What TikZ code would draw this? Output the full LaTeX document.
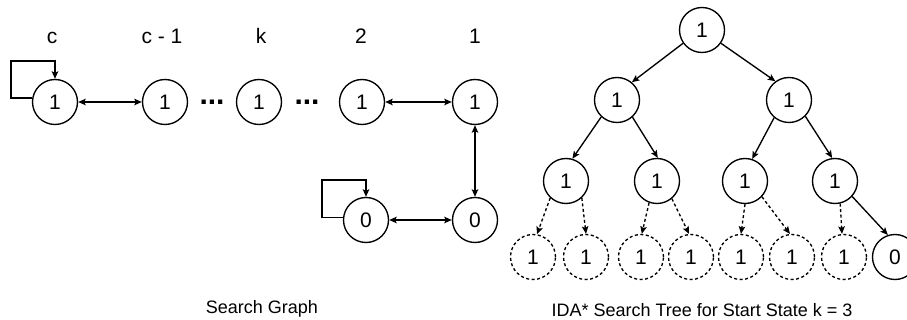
\documentclass[tikz,border=0pt]{standalone}
\usepackage{fontspec}
\setmainfont{Liberation Sans}
\usetikzlibrary{arrows.meta}
\begin{document}
\begin{tikzpicture}[x=1pt,y=-1pt,
  gstate/.style={circle,draw,line width=1.35pt,minimum size=45pt,inner sep=0pt,
    font=\fontsize{21}{21}\selectfont},
  pruned/.style={gstate,dash pattern=on 3pt off 2.5pt},
  lbl/.style={font=\fontsize{21}{21}\selectfont,anchor=base,inner sep=0pt},
  dotsym/.style={font=\fontsize{30}{30}\selectfont\bfseries,anchor=base,inner sep=0pt},
  captext/.style={font=\fontsize{18}{18}\selectfont,anchor=base,inner sep=0pt},
  arrowline/.style={line width=1.35pt,-{Stealth[length=7.5pt,width=6.5pt,inset=1.5pt]}},
  biline/.style={line width=1.35pt,{Stealth[length=7.5pt,width=6.5pt,inset=1.5pt]}-{Stealth[length=7.5pt,width=6.5pt,inset=1.5pt]}},
  dashline/.style={arrowline,dash pattern=on 3pt off 2.5pt}]
\useasboundingbox (0,0) rectangle (907,320);

% ---------- search graph ----------
\node[lbl] (lc)  at (52,44)  {c};
\node[lbl] (lc1) at (162,44) {c - 1};
\node[lbl] (lk)  at (261,44) {k};
\node[lbl] (l2)  at (361,44) {2};
\node[lbl] (l1)  at (475,44) {1};

\node[gstate] (gc)  at (55,102)  {1};
\node[gstate] (gc1) at (165,102) {1};
\node[gstate] (gk)  at (259,102) {1};
\node[gstate] (g2)  at (362,102) {1};
\node[gstate] (g1)  at (475,102) {1};
\node[gstate] (gz)  at (366,220) {0};
\node[gstate] (gg)  at (475,220) {0};

\node[dotsym] (d1) at (212,105) {...};
\node[dotsym] (d2) at (307,105) {...};

\coordinate (loopc) at (11,61);
\coordinate (loopz) at (322,180);
\draw[arrowline] (gc.170) -| (loopc) -| (gc.north);
\draw[arrowline] (gz.173) -| (loopz) -| (gz.north);

\draw[biline] (gc) -- (gc1);
\draw[biline] (g2) -- (g1);
\draw[biline] (g1) -- (gg);
\draw[biline] (gz) -- (gg);

\node[captext] (capg) at (262,313) {Search Graph};

% ---------- IDA* search tree ----------
\node[gstate] (r)  at (702,30)  {1};
\node[gstate] (a)  at (617,100) {1};
\node[gstate] (b)  at (789,100) {1};
\node[gstate] (aa) at (566,181) {1};
\node[gstate] (ab) at (657,181) {1};
\node[gstate] (ba) at (745,181) {1};
\node[gstate] (bb) at (835,181) {1};
\node[pruned] (t1) at (533,257) {1};
\node[pruned] (t2) at (586,257) {1};
\node[pruned] (t3) at (641,257) {1};
\node[pruned] (t4) at (691,257) {1};
\node[pruned] (t5) at (741,257) {1};
\node[pruned] (t6) at (792,257) {1};
\node[pruned] (t7) at (844,257) {1};
\node[gstate] (t8) at (895,257) {0};

\draw[arrowline] (r.215) -- (a.50);
\draw[arrowline] (r.325) -- (b.126);
\draw[arrowline] (a.227) -- (aa.74);
\draw[arrowline] (a.312) -- (ab.88);
\draw[arrowline] (b.230) -- (ba.72);
\draw[arrowline] (b.315) -- (bb.97);

\draw[dashline] (aa.227) -- (t1.80);
\draw[dashline] (aa.313) -- (t2.90);
\draw[dashline] (ab.250) -- (t3.88);
\draw[dashline] (ab.310) -- (t4.95);
\draw[dashline] (ba.270) -- (t5.90);
\draw[dashline] (ba.317) -- (t6.95);
\draw[dashline] (bb.283) -- (t7.95);
\draw[arrowline] (bb.318) -- (t8.108);

\node[captext] (capt) at (702,316) {IDA* Search Tree for Start State k = 3};
\end{tikzpicture}
\end{document}
